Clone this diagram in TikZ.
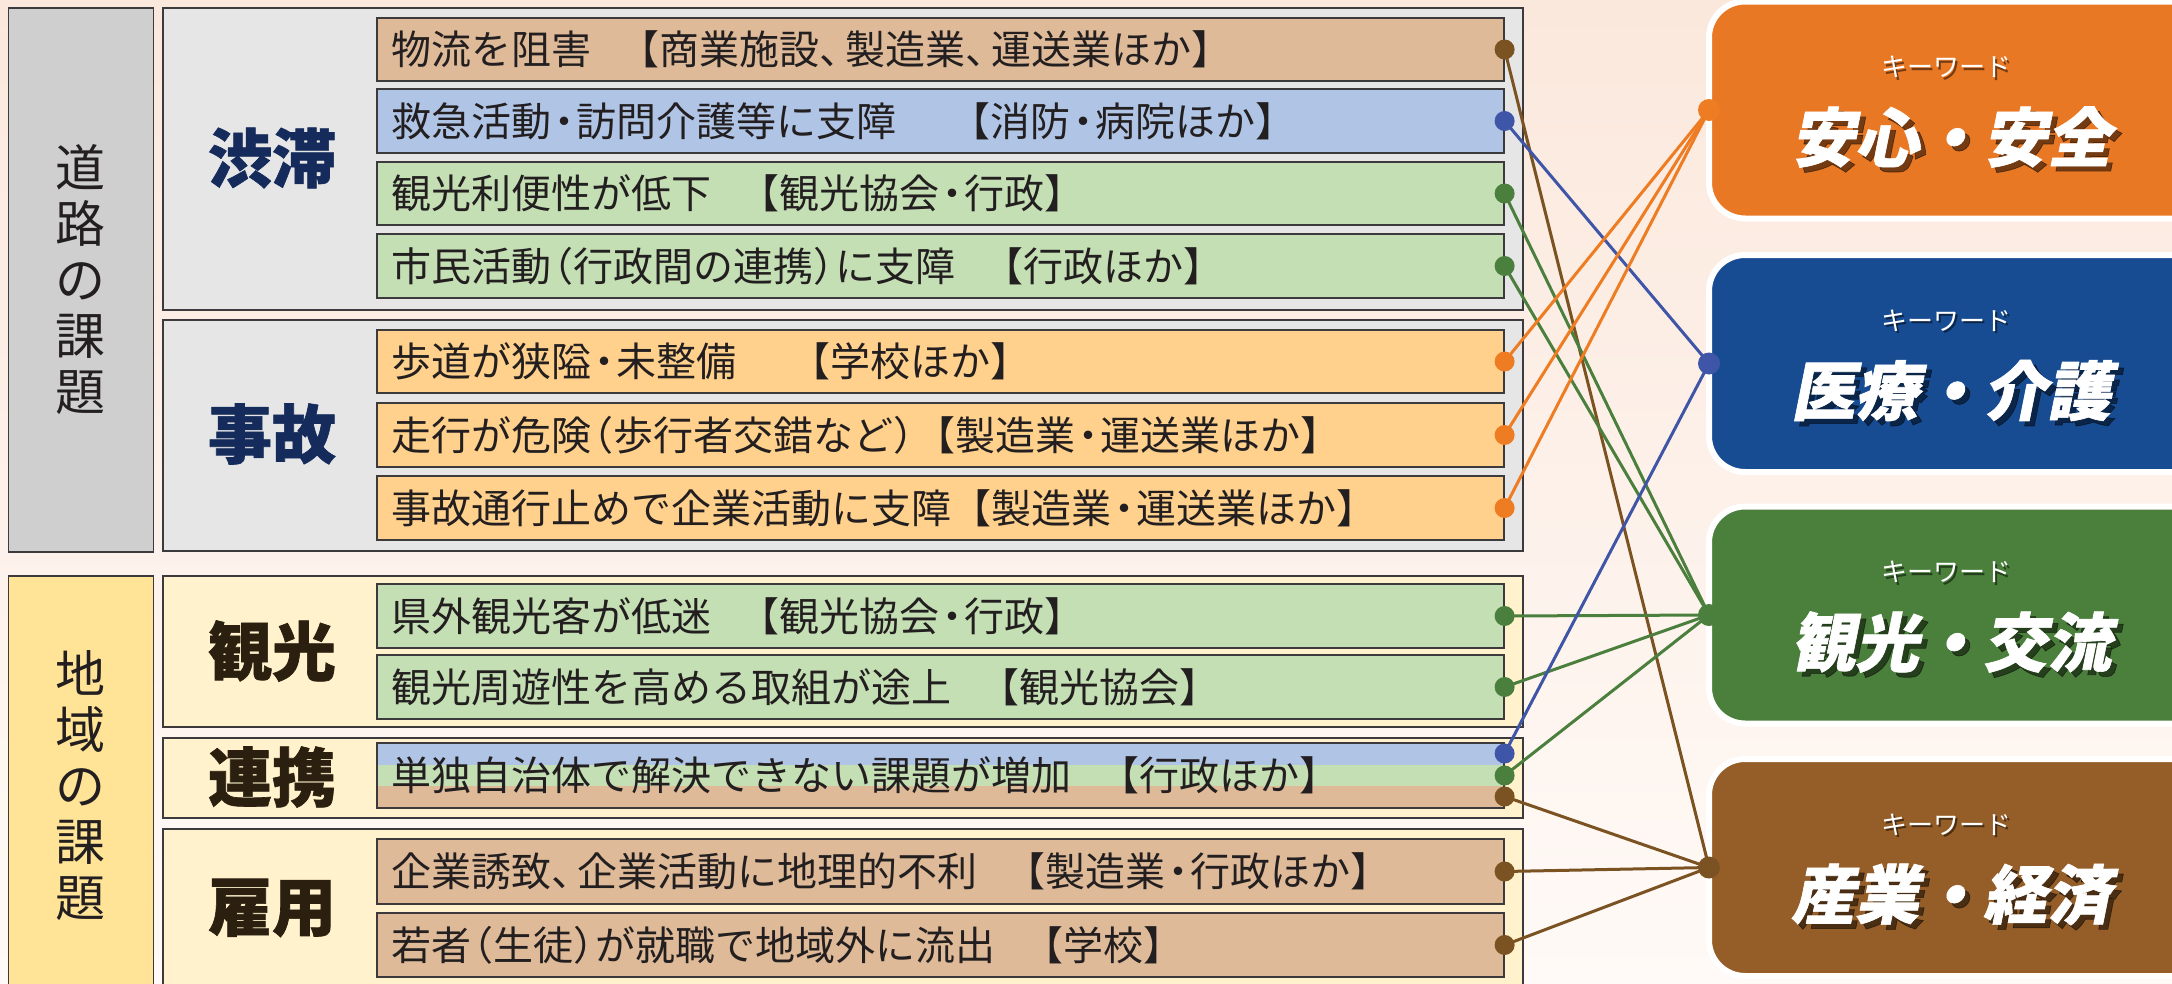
\documentclass[tikz,border=0pt]{standalone}
\usepackage{fontspec}
\newfontfamily\jp{Noto Sans CJK JP}
\newfontfamily\jpheavy[FakeBold=1]{Noto Sans CJK JP}
\newfontfamily\jpsl[FakeSlant=0.2,FakeBold=1]{Noto Sans CJK JP}
\usetikzlibrary{calc}
\definecolor{bgtop}{RGB}{251,232,220}
\definecolor{bgbot}{RGB}{255,250,247}
\definecolor{graylbl}{RGB}{208,207,208}
\definecolor{graygrp}{RGB}{231,230,231}
\definecolor{yellbl}{RGB}{255,228,151}
\definecolor{yelgrp}{RGB}{255,242,204}
\definecolor{tanitem}{RGB}{222,186,152}
\definecolor{blueitem}{RGB}{176,197,230}
\definecolor{greenitem}{RGB}{197,223,180}
\definecolor{orangeitem}{RGB}{255,209,140}
\definecolor{boxline}{RGB}{60,58,60}
\definecolor{txt}{RGB}{35,31,32}
\definecolor{navy}{RGB}{21,43,91}
\definecolor{darkbr}{RGB}{43,32,16}
\definecolor{cbrown}{RGB}{123,83,34}
\definecolor{cblue}{RGB}{63,85,167}
\definecolor{cgreen}{RGB}{75,127,61}
\definecolor{corange}{RGB}{238,124,34}
\definecolor{korange}{RGB}{233,120,37}
\definecolor{kblue}{RGB}{23,76,147}
\definecolor{kgreen}{RGB}{75,128,60}
\definecolor{kbrown}{RGB}{149,94,40}
\newcommand{\Kdot}{\makebox[25pt][c]{・}}
\newcommand{\Kop}{\makebox[22pt][r]{（}}
\newcommand{\Kcp}{\makebox[22pt][l]{）}}
\newcommand{\Kcm}{\makebox[26pt][l]{、}}
\newcommand{\Kgap}{\hspace{28pt}}
\newcommand{\Kgapp}{\hspace{54pt}}
\begin{document}
\begin{tikzpicture}[x=1pt,y=-1pt,
  lblbox/.style={draw=boxline, line width=1.8pt, anchor=north west, minimum width=145pt, minimum height=#1, inner sep=0pt, font=\jp\fontsize{50}{56}\selectfont, text=txt, align=center},
  grp/.style={draw=boxline, line width=1.8pt, anchor=north west, minimum width=1360pt, minimum height=#1, inner sep=0pt},
  glbl/.style={font=\jpheavy\bfseries\fontsize{64}{64}\selectfont, inner sep=0pt},
  item/.style={draw=boxline, line width=1.6pt, anchor=west, minimum width=1127pt, minimum height=#1, inner xsep=15pt, inner ysep=0pt, text width=1097pt, align=left, font=\jp\fontsize{40}{44}\selectfont, text=txt},
  kbox/.style={draw=white, line width=6pt, rounded corners=36pt, anchor=west, outer sep=0pt, minimum width=520pt, minimum height=217pt},
  kwsmall/.style={font=\jp\fontsize{26}{26}\selectfont, text=white, inner sep=0pt},
  kwbig/.style={font=\jpsl\bfseries\fontsize{64}{64}\selectfont, text=white, inner sep=0pt},
  kwshadow/.style={text=black, text opacity=0.5},
  conn/.style={line width=3pt},
]
\useasboundingbox (0,0) rectangle (2172,983);
\clip (0,0) rectangle (2172,983);
\shade[top color=bgtop, bottom color=bgbot] (0,0) rectangle (2172,983);

% left category boxes
\node[lblbox=544pt, fill=graylbl] (road) at (7.5,7) {道\\路\\の\\課\\題};
\node[lblbox=420pt, fill=yellbl] (area) at (7.5,575) {地\\域\\の\\課\\題};

% group boxes
\node[grp=302pt, fill=graygrp] (g1) at (162,7) {};
\node[grp=231pt, fill=graygrp] (g2) at (162,319) {};
\node[grp=151pt, fill=yelgrp] (g3) at (162,575) {};
\node[grp=80pt, fill=yelgrp] (g4) at (162,737) {};
\node[grp=170pt, fill=yelgrp] (g5) at (162,828) {};

\node[glbl, text=navy] (g1l) at (272,158) {渋滞};
\node[glbl, text=navy] (g2l) at (272,434) {事故};
\node[glbl, text=darkbr] (g3l) at (272,651) {観光};
\node[glbl, text=darkbr] (g4l) at (272,777) {連携};
\node[glbl, text=darkbr] (g5l) at (272,908) {雇用};

% items
\node[item=63pt, fill=tanitem] (i1) at (376,49.5) {物流を阻害\Kgap【商業施設\Kcm 製造業\Kcm 運送業ほか】};
\node[item=64pt, fill=blueitem] (i2) at (376,121) {救急活動\Kdot 訪問介護等に支障\Kgapp【消防\Kdot 病院ほか】};
\node[item=63pt, fill=greenitem] (i3) at (376,193.5) {観光利便性が低下\Kgap【観光協会\Kdot 行政】};
\node[item=64pt, fill=greenitem] (i4) at (376,266) {市民活動\Kop 行政間の連携\Kcp に支障\Kgap【行政ほか】};
\node[item=63pt, fill=orangeitem] (i5) at (376,361.5) {歩道が狭隘\Kdot 未整備\Kgapp【学校ほか】};
\node[item=64pt, fill=orangeitem] (i6) at (376,435) {走行が危険\Kop 歩行者交錯など\Kcp【製造業\Kdot 運送業ほか】};
\node[item=64pt, fill=orangeitem] (i7) at (376,508) {事故通行止めで企業活動に支障【製造業\Kdot 運送業ほか】};
\node[item=64pt, fill=greenitem] (i8) at (376,616) {県外観光客が低迷\Kgap【観光協会\Kdot 行政】};
\node[item=64pt, fill=greenitem] (i9) at (376,687) {観光周遊性を高める取組が途上\Kgap【観光協会】};
\node[item=65pt, path picture={
   \fill[blueitem] (path picture bounding box.north west) rectangle ([yshift=-21.5pt]path picture bounding box.north east);
   \fill[greenitem] ([yshift=-21.5pt]path picture bounding box.north west) rectangle ([yshift=-43pt]path picture bounding box.north east);
   \fill[tanitem] ([yshift=-43pt]path picture bounding box.north west) rectangle (path picture bounding box.south east);
  }] (i10) at (376,775.5) {単独自治体で解決できない課題が増加\Kgap【行政ほか】};
\node[item=65pt, fill=tanitem] (i11) at (376,871.5) {企業誘致\Kcm 企業活動に地理的不利\Kgap【製造業\Kdot 行政ほか】};
\node[item=64pt, fill=tanitem] (i12) at (376,945) {若者\Kop 生徒\Kcp が就職で地域外に流出\Kgap【学校】};

\coordinate (d10b) at ([yshift=22pt]i10.east);
\coordinate (d10g) at (i10.east);
\coordinate (d10t) at ([yshift=-21pt]i10.east);

% keyword boxes
\node[kbox, fill=korange] (kA) at (1709,110) {};
\node[kbox, fill=kblue] (kB) at (1709,363.5) {};
\node[kbox, fill=kgreen] (kC) at (1709,615) {};
\node[kbox, fill=kbrown] (kD) at (1709,867.5) {};

\foreach \nm/\cy/\kwtext in {A/110/安心・安全, B/363.5/医療・介護, C/615/観光・交流, D/867.5/産業・経済}{
  \node[kwsmall, kwshadow] (kws\nm) at (1948.5,\cy-40.5) {キーワード};
  \node[kwsmall] (kw\nm) at (1946,\cy-43) {キーワード};
  \node[kwbig, kwshadow] (kbs\nm) at (1956,\cy+32) {\kwtext};
  \node[kwbig] (kb\nm) at (1951,\cy+27) {\kwtext};
}

% connectors
\foreach \p/\c/\k in {i1.east/cbrown/kD, i2.east/cblue/kB, i3.east/cgreen/kC, i4.east/cgreen/kC,
   i5.east/corange/kA, i6.east/corange/kA, i7.east/corange/kA, i8.east/cgreen/kC, i9.east/cgreen/kC,
   d10b/cblue/kB, d10g/cgreen/kC, d10t/cbrown/kD, i11.east/cbrown/kD, i12.east/cbrown/kD}{
  \draw[conn, \c] (\p) -- (\k.west);
  \fill[\c] (\p) circle (10pt);
}
\fill[corange] (kA.west) circle (11pt);
\fill[cblue] (kB.west) circle (11pt);
\fill[cgreen] (kC.west) circle (11pt);
\fill[cbrown] (kD.west) circle (11pt);
\end{tikzpicture}
\end{document}
